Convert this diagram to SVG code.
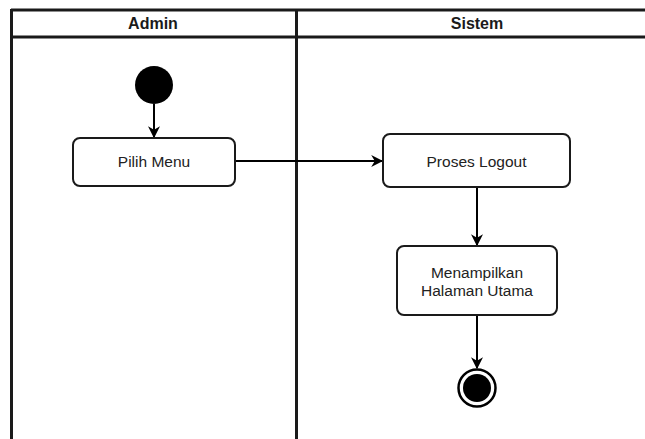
<svg xmlns="http://www.w3.org/2000/svg" width="645" height="439" viewBox="0 0 645 439">
  <style>
    .lane { fill: none; stroke: #1a1a1a; stroke-width: 3; }
    .hdr { font-family: "Liberation Sans", Arial, sans-serif; font-size: 16px; font-weight: bold; fill: #1a1a1a; text-anchor: middle; }
    .box { fill: #ffffff; stroke: #1a1a1a; stroke-width: 2; }
    .lbl { font-family: "Liberation Sans", Arial, sans-serif; font-size: 15.5px; fill: #222222; text-anchor: middle; }
    .edge { fill: none; stroke: #000000; stroke-width: 2; marker-end: url(#arrow); }
  </style>
  <defs>
    <marker id="arrow" viewBox="0 0 10 10" refX="9" refY="5" markerWidth="6" markerHeight="6" markerUnits="strokeWidth" orient="auto">
      <path d="M0,0 L10,5 L0,10 L3,5 Z" fill="#000000"/>
    </marker>
  </defs>
  <rect width="645" height="439" fill="#ffffff"/>

  <!-- swimlanes -->
  <g id="lanes">
    <line class="lane" x1="11" y1="10" x2="645" y2="10"/>
    <line class="lane" x1="11" y1="37" x2="645" y2="37"/>
    <line class="lane" x1="11.5" y1="9" x2="11.5" y2="439"/>
    <line class="lane" x1="296.5" y1="9" x2="296.5" y2="439"/>
    <text class="hdr" x="153" y="29">Admin</text>
    <text class="hdr" x="477" y="29">Sistem</text>
  </g>

  <!-- connectors -->
  <g id="connectors">
    <line class="edge" x1="154" y1="104" x2="154" y2="137"/>
    <line class="edge" x1="235" y1="161" x2="382" y2="161"/>
    <line class="edge" x1="477" y1="187" x2="477" y2="245"/>
    <line class="edge" x1="477" y1="315" x2="477" y2="368"/>
  </g>

  <g id="start">
    <circle cx="154" cy="85" r="19" fill="#000000"/>
  </g>

  <g id="pilih-menu">
    <rect class="box" x="73" y="138" width="162" height="48" rx="7"/>
    <text class="lbl" x="154" y="167">Pilih Menu</text>
  </g>

  <g id="proses-logout">
    <rect class="box" x="383" y="134" width="187" height="53" rx="7"/>
    <text class="lbl" x="476.5" y="167">Proses Logout</text>
  </g>

  <g id="menampilkan">
    <rect class="box" x="397" y="246" width="160" height="69" rx="7"/>
    <text class="lbl" x="477" y="277.5">Menampilkan</text>
    <text class="lbl" x="477" y="295.5">Halaman Utama</text>
  </g>

  <g id="end">
    <circle cx="477" cy="388" r="18.5" fill="#ffffff" stroke="#000000" stroke-width="2.5"/>
    <circle cx="477" cy="388" r="14" fill="#000000"/>
  </g>
</svg>
